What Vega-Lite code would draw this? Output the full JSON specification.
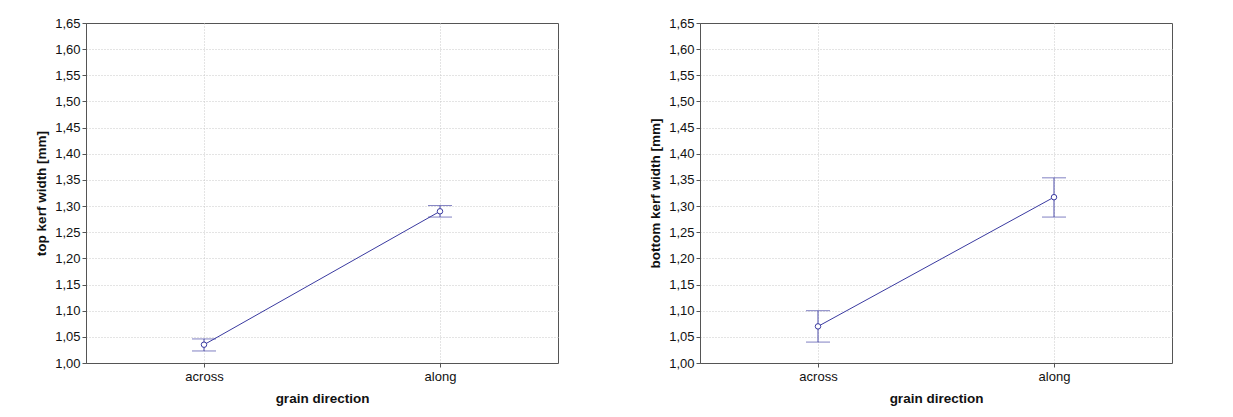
{
  "$schema": "https://vega.github.io/schema/vega-lite/v6.json",
  "padding": {"left": 34, "top": 16, "right": 10, "bottom": 5},
  "background": "white",
  "spacing": 89,
  "datasets": {
    "kerf": [
      {"panel": "top", "direction": "across", "mean": 1.035, "lo": 1.023, "hi": 1.046},
      {"panel": "top", "direction": "along", "mean": 1.29, "lo": 1.279, "hi": 1.301},
      {"panel": "bottom", "direction": "across", "mean": 1.07, "lo": 1.04, "hi": 1.1},
      {"panel": "bottom", "direction": "along", "mean": 1.317, "lo": 1.279, "hi": 1.354}
    ]
  },
  "config": {
    "font": "Liberation Sans",
    "view": {"stroke": "#555555", "strokeWidth": 1},
    "axis": {
      "labelFont": "Liberation Sans",
      "titleFont": "Liberation Sans",
      "labelFontSize": 13,
      "titleFontSize": 13.5,
      "titleFontWeight": "bold",
      "labelColor": "#111111",
      "titleColor": "#111111",
      "domainColor": "#555555",
      "tickColor": "#555555",
      "gridColor": "#c8c8c8",
      "gridDash": [1, 2],
      "gridWidth": 1,
      "labelOverlap": false,
      "labelBound": false,
      "labelFlush": false
    }
  },
  "hconcat": [
    {
      "width": 472,
      "height": 340,
      "data": {"name": "kerf"},
      "transform": [{"filter": "datum.panel === 'top'"}],
      "encoding": {
        "x": {
          "field": "direction",
          "type": "nominal",
          "scale": {"type": "point", "domain": ["across", "along"], "padding": 0.5},
          "axis": {"title": "grain direction", "labelAngle": 0, "tickSize": 4, "labelPadding": 3, "titlePadding": 8, "grid": true}
        }
      },
      "layer": [
        {
          "mark": {"type": "rule", "color": "#4a4aa8", "strokeWidth": 1},
          "encoding": {
            "y": {"field": "lo", "type": "quantitative", "scale": {"domain": [1.0, 1.65], "nice": false, "zero": false},
              "axis": {"title": "top kerf width [mm]", "values": [1.0, 1.05, 1.1, 1.15, 1.2, 1.25, 1.3, 1.35, 1.4, 1.45, 1.5, 1.55, 1.6, 1.65],
                "labelExpr": "replace(format(datum.value, '.2f'), '.', ',')", "tickSize": 4, "labelPadding": 2, "titlePadding": 6, "grid": true,
                "gridOpacity": {"condition": {"test": "datum.value > 1.649", "value": 0}, "value": 1}}},
            "y2": {"field": "hi"}
          }
        },
        {
          "mark": {"type": "tick", "color": "#4a4aa8", "thickness": 1, "size": 24, "orient": "horizontal"},
          "encoding": {"y": {"field": "lo", "type": "quantitative", "scale": {"domain": [1.0, 1.65], "nice": false, "zero": false},
              "axis": {"title": "top kerf width [mm]", "values": [1.0, 1.05, 1.1, 1.15, 1.2, 1.25, 1.3, 1.35, 1.4, 1.45, 1.5, 1.55, 1.6, 1.65],
                "labelExpr": "replace(format(datum.value, '.2f'), '.', ',')", "tickSize": 4, "labelPadding": 2, "titlePadding": 6, "grid": true,
                "gridOpacity": {"condition": {"test": "datum.value > 1.649", "value": 0}, "value": 1}}}}
        },
        {
          "mark": {"type": "tick", "color": "#4a4aa8", "thickness": 1, "size": 24, "orient": "horizontal"},
          "encoding": {"y": {"field": "hi", "type": "quantitative", "scale": {"domain": [1.0, 1.65], "nice": false, "zero": false},
              "axis": {"title": "top kerf width [mm]", "values": [1.0, 1.05, 1.1, 1.15, 1.2, 1.25, 1.3, 1.35, 1.4, 1.45, 1.5, 1.55, 1.6, 1.65],
                "labelExpr": "replace(format(datum.value, '.2f'), '.', ',')", "tickSize": 4, "labelPadding": 2, "titlePadding": 6, "grid": true,
                "gridOpacity": {"condition": {"test": "datum.value > 1.649", "value": 0}, "value": 1}}}}
        },
        {
          "mark": {"type": "line", "color": "#3a3aa0", "strokeWidth": 1},
          "encoding": {"y": {"field": "mean", "type": "quantitative", "scale": {"domain": [1.0, 1.65], "nice": false, "zero": false},
              "axis": {"title": "top kerf width [mm]", "values": [1.0, 1.05, 1.1, 1.15, 1.2, 1.25, 1.3, 1.35, 1.4, 1.45, 1.5, 1.55, 1.6, 1.65],
                "labelExpr": "replace(format(datum.value, '.2f'), '.', ',')", "tickSize": 4, "labelPadding": 2, "titlePadding": 6, "grid": true,
                "gridOpacity": {"condition": {"test": "datum.value > 1.649", "value": 0}, "value": 1}}}}
        },
        {
          "mark": {"type": "point", "shape": "circle", "filled": true, "fill": "white", "stroke": "#3a3aa0", "strokeWidth": 1, "size": 30, "opacity": 1},
          "encoding": {"y": {"field": "mean", "type": "quantitative", "scale": {"domain": [1.0, 1.65], "nice": false, "zero": false},
              "axis": {"title": "top kerf width [mm]", "values": [1.0, 1.05, 1.1, 1.15, 1.2, 1.25, 1.3, 1.35, 1.4, 1.45, 1.5, 1.55, 1.6, 1.65],
                "labelExpr": "replace(format(datum.value, '.2f'), '.', ',')", "tickSize": 4, "labelPadding": 2, "titlePadding": 6, "grid": true,
                "gridOpacity": {"condition": {"test": "datum.value > 1.649", "value": 0}, "value": 1}}}}
        }
      ]
    },
    {
      "width": 472,
      "height": 340,
      "data": {"name": "kerf"},
      "transform": [{"filter": "datum.panel === 'bottom'"}],
      "encoding": {
        "x": {
          "field": "direction",
          "type": "nominal",
          "scale": {"type": "point", "domain": ["across", "along"], "padding": 0.5},
          "axis": {"title": "grain direction", "labelAngle": 0, "tickSize": 4, "labelPadding": 3, "titlePadding": 8, "grid": true}
        }
      },
      "layer": [
        {
          "mark": {"type": "rule", "color": "#4a4aa8", "strokeWidth": 1},
          "encoding": {
            "y": {"field": "lo", "type": "quantitative", "scale": {"domain": [1.0, 1.65], "nice": false, "zero": false},
              "axis": {"title": "bottom kerf width [mm]", "values": [1.0, 1.05, 1.1, 1.15, 1.2, 1.25, 1.3, 1.35, 1.4, 1.45, 1.5, 1.55, 1.6, 1.65],
                "labelExpr": "replace(format(datum.value, '.2f'), '.', ',')", "tickSize": 4, "labelPadding": 2, "titlePadding": 6, "grid": true,
                "gridOpacity": {"condition": {"test": "datum.value > 1.649", "value": 0}, "value": 1}}},
            "y2": {"field": "hi"}
          }
        },
        {
          "mark": {"type": "tick", "color": "#4a4aa8", "thickness": 1, "size": 24, "orient": "horizontal"},
          "encoding": {"y": {"field": "lo", "type": "quantitative", "scale": {"domain": [1.0, 1.65], "nice": false, "zero": false},
              "axis": {"title": "bottom kerf width [mm]", "values": [1.0, 1.05, 1.1, 1.15, 1.2, 1.25, 1.3, 1.35, 1.4, 1.45, 1.5, 1.55, 1.6, 1.65],
                "labelExpr": "replace(format(datum.value, '.2f'), '.', ',')", "tickSize": 4, "labelPadding": 2, "titlePadding": 6, "grid": true,
                "gridOpacity": {"condition": {"test": "datum.value > 1.649", "value": 0}, "value": 1}}}}
        },
        {
          "mark": {"type": "tick", "color": "#4a4aa8", "thickness": 1, "size": 24, "orient": "horizontal"},
          "encoding": {"y": {"field": "hi", "type": "quantitative", "scale": {"domain": [1.0, 1.65], "nice": false, "zero": false},
              "axis": {"title": "bottom kerf width [mm]", "values": [1.0, 1.05, 1.1, 1.15, 1.2, 1.25, 1.3, 1.35, 1.4, 1.45, 1.5, 1.55, 1.6, 1.65],
                "labelExpr": "replace(format(datum.value, '.2f'), '.', ',')", "tickSize": 4, "labelPadding": 2, "titlePadding": 6, "grid": true,
                "gridOpacity": {"condition": {"test": "datum.value > 1.649", "value": 0}, "value": 1}}}}
        },
        {
          "mark": {"type": "line", "color": "#3a3aa0", "strokeWidth": 1},
          "encoding": {"y": {"field": "mean", "type": "quantitative", "scale": {"domain": [1.0, 1.65], "nice": false, "zero": false},
              "axis": {"title": "bottom kerf width [mm]", "values": [1.0, 1.05, 1.1, 1.15, 1.2, 1.25, 1.3, 1.35, 1.4, 1.45, 1.5, 1.55, 1.6, 1.65],
                "labelExpr": "replace(format(datum.value, '.2f'), '.', ',')", "tickSize": 4, "labelPadding": 2, "titlePadding": 6, "grid": true,
                "gridOpacity": {"condition": {"test": "datum.value > 1.649", "value": 0}, "value": 1}}}}
        },
        {
          "mark": {"type": "point", "shape": "circle", "filled": true, "fill": "white", "stroke": "#3a3aa0", "strokeWidth": 1, "size": 30, "opacity": 1},
          "encoding": {"y": {"field": "mean", "type": "quantitative", "scale": {"domain": [1.0, 1.65], "nice": false, "zero": false},
              "axis": {"title": "bottom kerf width [mm]", "values": [1.0, 1.05, 1.1, 1.15, 1.2, 1.25, 1.3, 1.35, 1.4, 1.45, 1.5, 1.55, 1.6, 1.65],
                "labelExpr": "replace(format(datum.value, '.2f'), '.', ',')", "tickSize": 4, "labelPadding": 2, "titlePadding": 6, "grid": true,
                "gridOpacity": {"condition": {"test": "datum.value > 1.649", "value": 0}, "value": 1}}}}
        }
      ]
    }
  ]
}
